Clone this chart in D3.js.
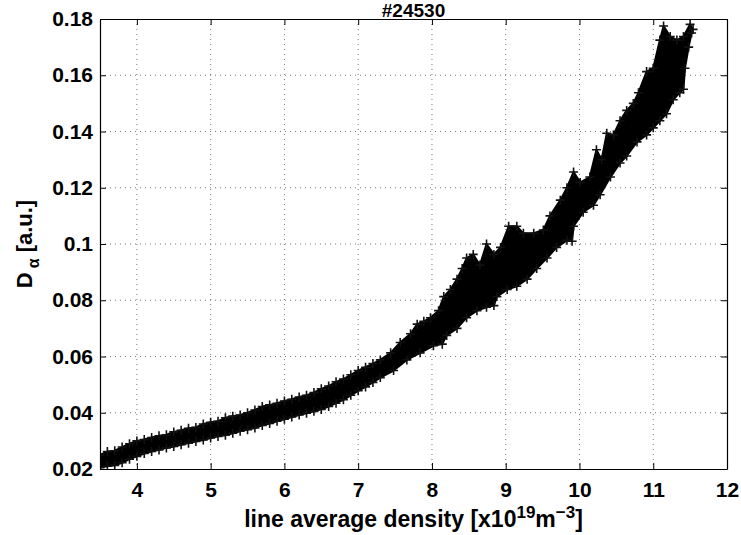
<!DOCTYPE html>
<html lang="en">
<head>
<meta charset="UTF-8">
<title>#24530</title>
<style>
    body { margin: 0; background: #fff; }
    svg text { font-family: "Liberation Sans", Arial, sans-serif; font-weight: bold; fill: #000; }
</style>
</head>
<body>
<div id="content"></div>
<script src="https://cdnjs.cloudflare.com/ajax/libs/d3/7.8.5/d3.min.js"></script>
<script>

    // axis ticks
    var xTicks = [4, 5, 6, 7, 8, 9, 10, 11, 12];
    var yTicks = [0.02, 0.04, 0.06, 0.08, 0.1, 0.12, 0.14, 0.16, 0.18];
    var yTickLabels = ["0.02", "0.04", "0.06", "0.08", "0.1", "0.12", "0.14", "0.16", "0.18"];

    // outline of the marker cloud: [density, D_alpha]
    var bandUpper = [
        [3.40, 0.0245], [3.50, 0.0250], [3.60, 0.0262], [3.70, 0.0265], [3.80, 0.0278], [3.90, 0.0290],
        [4.00, 0.0300], [4.10, 0.0305], [4.20, 0.0312], [4.30, 0.0318], [4.40, 0.0322],
        [4.50, 0.0332], [4.60, 0.0338], [4.70, 0.0345], [4.80, 0.0348], [4.90, 0.0360],
        [5.00, 0.0366], [5.10, 0.0370], [5.20, 0.0382], [5.30, 0.0388], [5.40, 0.0392],
        [5.50, 0.0400], [5.60, 0.0410], [5.70, 0.0422], [5.80, 0.0428], [5.90, 0.0434],
        [6.00, 0.0442], [6.10, 0.0448], [6.20, 0.0456], [6.30, 0.0462], [6.40, 0.0472],
        [6.50, 0.0485], [6.60, 0.0495], [6.70, 0.0510], [6.80, 0.0520], [6.90, 0.0535],
        [7.00, 0.0550], [7.10, 0.0562], [7.20, 0.0575], [7.30, 0.0588], [7.44, 0.0613],
        [7.57, 0.0650], [7.71, 0.0681], [7.80, 0.0715], [7.89, 0.0725], [7.98, 0.0738],
        [8.09, 0.0763], [8.16, 0.0813], [8.25, 0.0838], [8.34, 0.0875], [8.41, 0.0913],
        [8.47, 0.0950], [8.56, 0.0963], [8.65, 0.0925], [8.74, 0.1000], [8.84, 0.0963],
        [8.93, 0.0988], [9.04, 0.1063], [9.15, 0.1063], [9.24, 0.1038], [9.38, 0.1038],
        [9.51, 0.1050], [9.60, 0.1100], [9.74, 0.1156], [9.83, 0.1200], [9.92, 0.1256],
        [10.01, 0.1219], [10.14, 0.1238], [10.23, 0.1335], [10.30, 0.1300], [10.37, 0.1394],
        [10.46, 0.1388], [10.55, 0.1438], [10.64, 0.1475], [10.73, 0.1500], [10.80, 0.1538],
        [10.91, 0.1613], [11.00, 0.1625], [11.09, 0.1725], [11.14, 0.1775], [11.23, 0.1738],
        [11.32, 0.1725], [11.41, 0.1738], [11.50, 0.1781], [11.54, 0.1763]
    ];
    var bandLower = [
        [3.40, 0.0200], [3.50, 0.0205], [3.60, 0.0210], [3.70, 0.0213], [3.80, 0.0222], [3.90, 0.0235],
        [4.00, 0.0245], [4.10, 0.0255], [4.20, 0.0262], [4.30, 0.0268], [4.40, 0.0275],
        [4.50, 0.0280], [4.60, 0.0286], [4.70, 0.0292], [4.80, 0.0298], [4.90, 0.0303],
        [5.00, 0.0310], [5.10, 0.0316], [5.20, 0.0320], [5.30, 0.0327], [5.40, 0.0334],
        [5.50, 0.0340], [5.60, 0.0346], [5.70, 0.0355], [5.80, 0.0362], [5.90, 0.0370],
        [6.00, 0.0377], [6.10, 0.0385], [6.20, 0.0392], [6.30, 0.0398], [6.40, 0.0405],
        [6.50, 0.0412], [6.60, 0.0422], [6.70, 0.0434], [6.80, 0.0446], [6.90, 0.0462],
        [7.00, 0.0478], [7.10, 0.0492], [7.20, 0.0508], [7.30, 0.0525], [7.48, 0.0550],
        [7.66, 0.0588], [7.84, 0.0613], [8.02, 0.0638], [8.14, 0.0644], [8.20, 0.0675],
        [8.34, 0.0700], [8.47, 0.0738], [8.61, 0.0763], [8.74, 0.0775], [8.84, 0.0781],
        [8.88, 0.0813], [9.02, 0.0838], [9.15, 0.0850], [9.29, 0.0875], [9.42, 0.0913],
        [9.56, 0.0950], [9.69, 0.0988], [9.83, 0.1013], [9.90, 0.1010], [9.92, 0.1063],
        [10.05, 0.1113], [10.19, 0.1138], [10.28, 0.1175], [10.42, 0.1238], [10.55, 0.1288],
        [10.64, 0.1313], [10.78, 0.1363], [10.91, 0.1388], [11.00, 0.1413], [11.09, 0.1438],
        [11.18, 0.1463], [11.27, 0.1513], [11.36, 0.1538], [11.41, 0.1550], [11.43, 0.1625],
        [11.48, 0.1700], [11.52, 0.1750]
    ];

    var W = 741, H = 535;
    var margin = { top: 19, right: 14, bottom: 66, left: 100 };
    var width = W - margin.left - margin.right,
        height = H - margin.top - margin.bottom;

    var svg = d3.select("#content")
        .append("svg")
        .attr("width", W)
        .attr("height", H);

    var g = svg.append("g")
        .attr("transform", "translate(" + margin.left + "," + margin.top + ")");

    var x = d3.scaleLinear().domain([3.5, 12]).range([0, width]);
    var y = d3.scaleLinear().domain([0.02, 0.18]).range([height, 0]);

    g.append("clipPath").attr("id", "plotclip")
        .append("rect").attr("width", width).attr("height", height);

    // dotted grid
    var grid = g.append("g").attr("class", "grid");
    grid.selectAll("line.gx")
        .data(xTicks.filter(function (d) { return d < 12; }))
        .enter().append("line")
        .attr("x1", function (d) { return x(d); })
        .attr("x2", function (d) { return x(d); })
        .attr("y1", 0).attr("y2", height);
    grid.selectAll("line.gy")
        .data(yTicks.filter(function (d) { return d > 0.02 && d < 0.18; }))
        .enter().append("line")
        .attr("y1", function (d) { return y(d); })
        .attr("y2", function (d) { return y(d); })
        .attr("x1", 0).attr("x2", width);
    grid.selectAll("line")
        .style("stroke", "#777")
        .style("stroke-width", 1)
        .style("stroke-dasharray", "1,4");

    // the data cloud
    var cloud = g.append("g").attr("clip-path", "url(#plotclip)");
    var outline = bandUpper.concat(bandLower.slice().reverse());
    var line = d3.line()
        .x(function (d) { return x(d[0]); })
        .y(function (d) { return y(d[1]); });

    cloud.append("path")
        .datum(outline)
        .attr("d", function (d) { return line(d) + "Z"; })
        .style("fill", "#000")
        .style("stroke", "#000")
        .style("stroke-width", 2)
        .style("stroke-linejoin", "round");

    cloud.selectAll("path.plus")
        .data(outline)
        .enter().append("path")
        .attr("class", "plus")
        .attr("transform", function (d) { return "translate(" + x(d[0]) + "," + y(d[1]) + ")"; })
        .attr("d", "M-4.5,0H4.5M0,-4.5V4.5")
        .style("stroke", "#111")
        .style("stroke-width", 1.6);

    // axes, ticks pointing inward on all four sides
    g.append("g")
        .attr("transform", "translate(0," + height + ")")
        .call(d3.axisBottom(x).tickValues(xTicks).tickSize(-6).tickSizeOuter(0).tickPadding(13));
    g.append("g")
        .call(d3.axisTop(x).tickValues(xTicks).tickSize(-6).tickSizeOuter(0).tickFormat(""));
    g.append("g")
        .call(d3.axisLeft(y).tickValues(yTicks).tickSize(-6).tickSizeOuter(0).tickPadding(7)
            .tickFormat(function (d, i) { return yTickLabels[i]; }));
    g.append("g")
        .attr("transform", "translate(" + width + ",0)")
        .call(d3.axisRight(y).tickValues(yTicks).tickSize(-6).tickSizeOuter(0).tickFormat(""));

    g.selectAll(".domain").style("stroke", "#000").style("stroke-width", 1.2);
    g.selectAll(".tick line").style("stroke", "#000");
    g.selectAll(".tick text")
        .style("font-family", "'Liberation Sans', Arial, sans-serif")
        .style("font-weight", "bold")
        .style("font-size", "21px");

    // title
    svg.append("text")
        .attr("x", margin.left + width / 2)
        .attr("y", 17)
        .attr("text-anchor", "middle")
        .style("font-size", "19px")
        .text("#24530");

    // x label with superscripts
    var xl = svg.append("text")
        .attr("x", margin.left + width / 2)
        .attr("y", 527)
        .attr("text-anchor", "middle")
        .style("font-size", "23px");
    xl.append("tspan").text("line average density [x10");
    xl.append("tspan").attr("dy", -9).style("font-size", "17px").text("19");
    xl.append("tspan").attr("dy", 9).text("m");
    xl.append("tspan").attr("dy", -9).style("font-size", "17px").text("\u22123");
    xl.append("tspan").attr("dy", 9).text("]");

    // y label with subscript
    var yl = svg.append("text")
        .attr("transform", "translate(32," + (margin.top + height / 2) + ") rotate(-90)")
        .attr("text-anchor", "middle")
        .style("font-size", "22px");
    yl.append("tspan").text("D");
    yl.append("tspan").attr("dx", 4).attr("dy", 7).style("font-size", "16px").text("\u03b1");
    yl.append("tspan").attr("dy", -7).text(" [a.u.]");

</script>
</body>
</html>
